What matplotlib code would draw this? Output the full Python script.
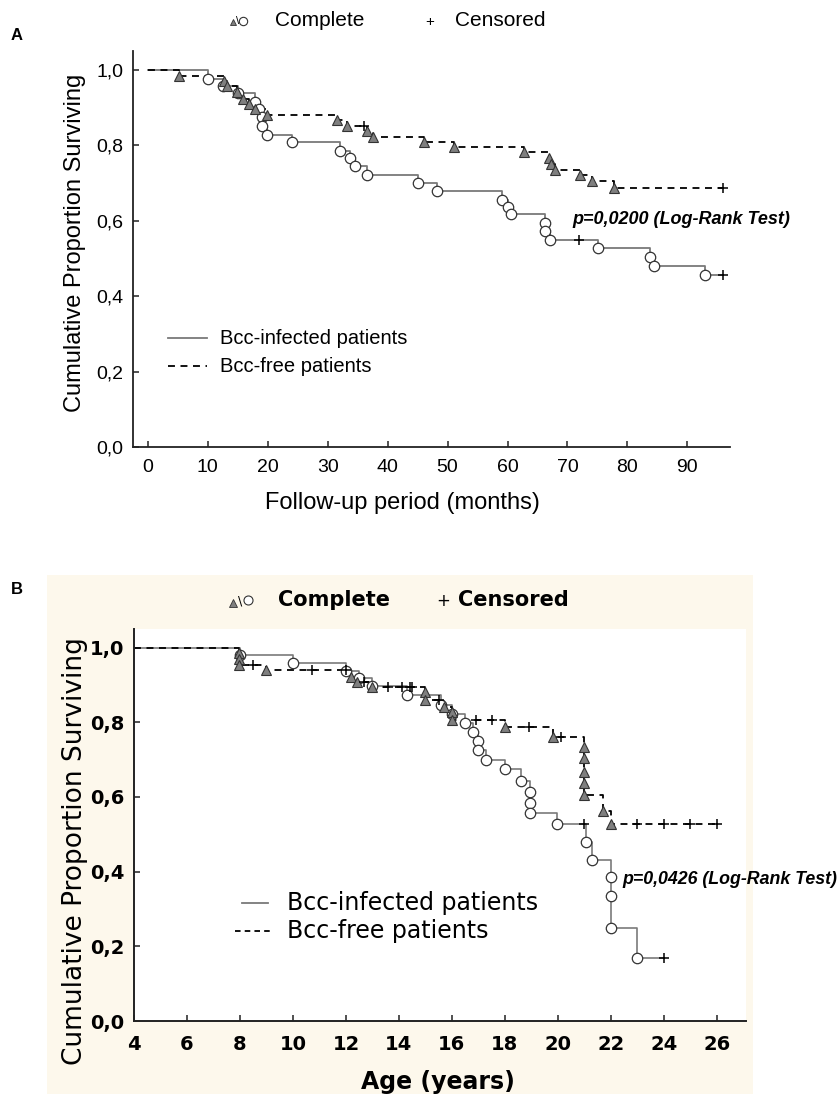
import matplotlib
matplotlib.use('Agg')
import matplotlib.pyplot as plt
from matplotlib.lines import Line2D
from matplotlib.patches import Rectangle

plt.rcParams['lines.scale_dashes'] = False

# ---------------- data: panel A (follow-up, months) ----------------
a_inf_times = [10.0, 12.5, 15.0, 17.9, 18.5, 19.0, 19.0, 19.9, 24.0, 32.0, 33.8, 34.6, 36.5,
               45.0, 48.2, 59.0, 60.0, 60.5, 66.2, 66.2, 67.1, 75.1, 83.8, 84.5, 93.0]
a_inf_surv = [0.976, 0.957, 0.938, 0.916, 0.896, 0.876, 0.850, 0.828, 0.810, 0.786, 0.766, 0.744, 0.721,
              0.700, 0.680, 0.655, 0.637, 0.617, 0.595, 0.573, 0.549, 0.527, 0.505, 0.481, 0.456]
a_inf_cens = [72.0, 96.0]

a_free_times = [5.2, 12.8, 13.2, 14.9, 15.9, 16.9, 17.9, 19.9, 31.5, 33.2, 36.5, 37.6, 46.0, 51.0,
                62.8, 67.0, 67.2, 67.9, 72.1, 74.1, 77.7]
a_free_surv = [0.985, 0.970, 0.956, 0.940, 0.924, 0.910, 0.895, 0.880, 0.866, 0.851, 0.838, 0.823,
               0.809, 0.796, 0.782, 0.766, 0.750, 0.735, 0.721, 0.704, 0.688]
a_free_cens = [36.0, 96.0]

a_xticks = [0, 10, 20, 30, 40, 50, 60, 70, 80, 90]
yticks = [0.0, 0.2, 0.4, 0.6, 0.8, 1.0]
ytick_labels = ['0,0', '0,2', '0,4', '0,6', '0,8', '1,0']

# ---------------- data: panel B (age, years) ----------------
b_inf_times = [8.0, 10.0, 12.0, 12.5, 13.0, 14.3, 15.6, 16.0, 16.5, 16.8, 17.0, 17.0, 17.3, 18.0,
               18.6, 18.95, 18.95, 18.95, 19.97, 21.06, 21.3, 22.0, 22.0, 22.0, 23.0]
b_inf_surv = [0.980, 0.958, 0.938, 0.918, 0.897, 0.873, 0.846, 0.822, 0.799, 0.775, 0.751, 0.726,
              0.699, 0.675, 0.643, 0.614, 0.585, 0.556, 0.527, 0.480, 0.431, 0.386, 0.335, 0.250, 0.170]
b_inf_cens = [21.0, 24.0]

b_free_times = [7.97, 7.97, 7.97, 9.0, 12.2, 12.4, 12.97, 15.0, 15.0, 15.7, 16.0, 16.0, 18.0, 19.8,
                21.0, 21.0, 21.0, 21.0, 21.0, 21.7, 22.0]
b_free_surv = [0.985, 0.969, 0.953, 0.940, 0.922, 0.909, 0.895, 0.882, 0.860, 0.841, 0.828, 0.806,
               0.786, 0.760, 0.733, 0.703, 0.668, 0.636, 0.605, 0.563, 0.527]
b_free_cens = [8.5, 10.7, 12.0, 12.7, 13.6, 14.1, 14.4, 14.5, 15.5, 16.9, 17.5, 18.9, 20.1,
               23.0, 24.0, 25.0, 26.0]

b_xticks = [4, 6, 8, 10, 12, 14, 16, 18, 20, 22, 24, 26]

# ---------------- helpers ----------------
W, H = 840, 1094


def fx(x):
    return x / W


def fy(y):
    return 1 - y / H


def surv_at(times, surv, tc):
    s = 1.0
    for t, v in zip(times, surv):
        if t <= tc:
            s = v
    return s


LINE_GRAY = '#7a7a7a'
EDGE = '#333333'
TRI_FILL = '#7f7f7f'


def draw_km(ax, t0, times, surv, cens, style, marker, ms, lw):
    t_end = max(cens[-1], times[-1])
    xs = [t0] + list(times) + [t_end]
    ys = [1.0] + list(surv) + [surv[-1]]
    if style == 'solid':
        ax.plot(xs, ys, drawstyle='steps-post', color=LINE_GRAY, lw=lw, zorder=2)
    else:
        ax.plot(xs, ys, drawstyle='steps-post', color='black', lw=lw,
                dashes=(5, 4), zorder=2)
    if marker == 'o':
        ax.plot(times, surv, 'o', ms=ms, mfc='white', mec=EDGE, mew=0.9, zorder=3, ls='none')
    else:
        ax.plot(times, surv, '^', ms=ms, mfc=TRI_FILL, mec=EDGE, mew=0.8, zorder=4, ls='none')
    cs = [surv_at(times, surv, c) for c in cens]
    ax.plot(cens, cs, '+', ms=ms, color='black', mew=1.1, zorder=5, ls='none')


fig = plt.figure(figsize=(8.4, 10.94), dpi=100)

# cream background for panel B
fig.patches.append(Rectangle((fx(47), fy(1094)), (753 - 47) / W, (1094 - 575) / H,
                             transform=fig.transFigure, facecolor='#FDF8EC',
                             edgecolor='none', zorder=-5))

# ---------------- Panel A ----------------
axA = fig.add_axes([fx(133), fy(447), (730 - 133) / W, (447 - 51) / H])
axA.set_facecolor('white')
axA.set_xlim(-2.45, 97.1)
axA.set_ylim(0, 1.05)
draw_km(axA, 0, a_inf_times, a_inf_surv, a_inf_cens, 'solid', 'o', 7.5, 1.3)
draw_km(axA, 0, a_free_times, a_free_surv, a_free_cens, 'dashed', '^', 7.5, 1.3)
for s in ['top', 'right']:
    axA.spines[s].set_visible(False)
for s in ['left', 'bottom']:
    axA.spines[s].set_linewidth(1.3)
    axA.spines[s].set_color('#222222')
axA.set_xticks(a_xticks)
axA.set_xticklabels([str(v) for v in a_xticks], fontsize=14, family='Liberation Sans')
axA.set_yticks(yticks)
axA.set_yticklabels(ytick_labels, fontsize=14, family='Liberation Sans')
axA.tick_params(direction='in', length=4, width=1.1, color='#222222')
axA.tick_params(axis='x', pad=9)
axA.tick_params(axis='y', pad=7)
axA.set_xlabel('Follow-up period (months)', fontsize=17, family='Liberation Sans')
axA.xaxis.set_label_coords((402 - 133) / (730 - 133), (447 - 503) / (447 - 51))
axA.xaxis.label.set_va('center')
axA.set_ylabel('Cumulative Proportion Surviving', fontsize=17, family='Liberation Sans')
axA.yaxis.set_label_coords((75 - 133) / (730 - 133), (447 - 243) / (447 - 51))
axA.yaxis.label.set_va('center')

# legend A (inside)
fig.add_artist(Line2D([fx(168), fx(207)], [fy(338), fy(338)], color=LINE_GRAY, lw=1.3,
                      transform=fig.transFigure))
fig.add_artist(Line2D([fx(168), fx(207)], [fy(366), fy(366)], color='black', lw=1.3,
                      dashes=(5, 4), transform=fig.transFigure))
fig.text(fx(220), fy(338), 'Bcc-infected patients', fontsize=14.5, family='Liberation Sans',
         va='center', ha='left')
fig.text(fx(220), fy(366), 'Bcc-free patients', fontsize=14.5, family='Liberation Sans',
         va='center', ha='left')
fig.text(fx(572), fy(220), 'p=0,0200 (Log-Rank Test)', fontsize=13, family='Liberation Sans',
         weight='bold', style='italic', va='center', ha='left')

# top legend A
fig.add_artist(Line2D([fx(233)], [fy(22)], marker='^', ms=5, mfc=TRI_FILL, mec=EDGE, mew=0.6,
                      ls='none', transform=fig.transFigure))
fig.text(fx(238), fy(21), '\\', fontsize=8, family='Liberation Sans', va='center', ha='center')
fig.add_artist(Line2D([fx(243)], [fy(21)], marker='o', ms=6, mfc='white', mec=EDGE, mew=0.8,
                      ls='none', transform=fig.transFigure))
fig.text(fx(275), fy(20), 'Complete', fontsize=15, family='Liberation Sans', va='center', ha='left')
fig.text(fx(430), fy(22), '+', fontsize=11, family='Liberation Sans', va='center', ha='center')
fig.text(fx(455), fy(20), 'Censored', fontsize=15, family='Liberation Sans', va='center', ha='left')
fig.text(fx(17), fy(35), 'A', fontsize=12, weight='bold', family='Liberation Sans',
         va='center', ha='center')

# ---------------- Panel B ----------------
axB = fig.add_axes([fx(134), fy(1021), (746 - 134) / W, (1021 - 629) / H])
axB.set_facecolor('white')
axB.set_xlim(4, 27.1)
axB.set_ylim(0, 1.0496)
draw_km(axB, 4, b_inf_times, b_inf_surv, b_inf_cens, 'solid', 'o', 7.5, 1.2)
draw_km(axB, 4, b_free_times, b_free_surv, b_free_cens, 'dashed', '^', 7.5, 1.3)
for s in ['top', 'right']:
    axB.spines[s].set_visible(False)
for s in ['left', 'bottom']:
    axB.spines[s].set_linewidth(1.4)
    axB.spines[s].set_color('#222222')
axB.set_xticks(b_xticks)
axB.set_xticklabels([str(v) for v in b_xticks], fontsize=14, family='DejaVu Sans', weight='bold')
axB.set_yticks(yticks)
axB.set_yticklabels(ytick_labels, fontsize=14, family='DejaVu Sans', weight='bold')
axB.tick_params(direction='in', length=4, width=1.1, color='#222222')
axB.tick_params(axis='x', pad=10)
axB.tick_params(axis='y', pad=7)
axB.set_xlabel('Age (years)', fontsize=17, family='DejaVu Sans', weight='bold')
axB.xaxis.set_label_coords((438 - 134) / (746 - 134), (1021 - 1082) / (1021 - 629))
axB.xaxis.label.set_va('center')
axB.set_ylabel('Cumulative Proportion Surviving', fontsize=19, family='DejaVu Sans')
axB.yaxis.set_label_coords((75 - 134) / (746 - 134), (1021 - 851) / (1021 - 629))
axB.yaxis.label.set_va('center')

fig.add_artist(Line2D([fx(242), fx(268)], [fy(903), fy(903)], color=LINE_GRAY, lw=1.3,
                      transform=fig.transFigure))
fig.add_artist(Line2D([fx(235), fx(272)], [fy(931), fy(931)], color='black', lw=1.3,
                      dashes=(4, 3), transform=fig.transFigure))
fig.text(fx(287), fy(903), 'Bcc-infected patients', fontsize=17, family='DejaVu Sans',
         va='center', ha='left')
fig.text(fx(287), fy(931), 'Bcc-free patients', fontsize=17, family='DejaVu Sans',
         va='center', ha='left')
fig.text(fx(622), fy(880), 'p=0,0426 (Log-Rank Test)', fontsize=12.8, family='Liberation Sans',
         weight='bold', style='italic', va='center', ha='left')

# top legend B
fig.add_artist(Line2D([fx(233)], [fy(603)], marker='^', ms=5.5, mfc=TRI_FILL, mec=EDGE, mew=0.6,
                      ls='none', transform=fig.transFigure))
fig.text(fx(240), fy(601), '\\', fontsize=9, family='DejaVu Sans', va='center', ha='center')
fig.add_artist(Line2D([fx(248)], [fy(600)], marker='o', ms=6.5, mfc='white', mec=EDGE, mew=0.8,
                      ls='none', transform=fig.transFigure))
fig.text(fx(278), fy(600), 'Complete', fontsize=15, family='DejaVu Sans', weight='bold',
         va='center', ha='left')
fig.text(fx(443), fy(601), '+', fontsize=12, family='DejaVu Sans', va='center', ha='center')
fig.text(fx(458), fy(600), 'Censored', fontsize=15, family='DejaVu Sans', weight='bold',
         va='center', ha='left')
fig.text(fx(17), fy(590), 'B', fontsize=12, weight='bold', family='Liberation Sans',
         va='center', ha='center')

fig.savefig('out.png', dpi=100)
